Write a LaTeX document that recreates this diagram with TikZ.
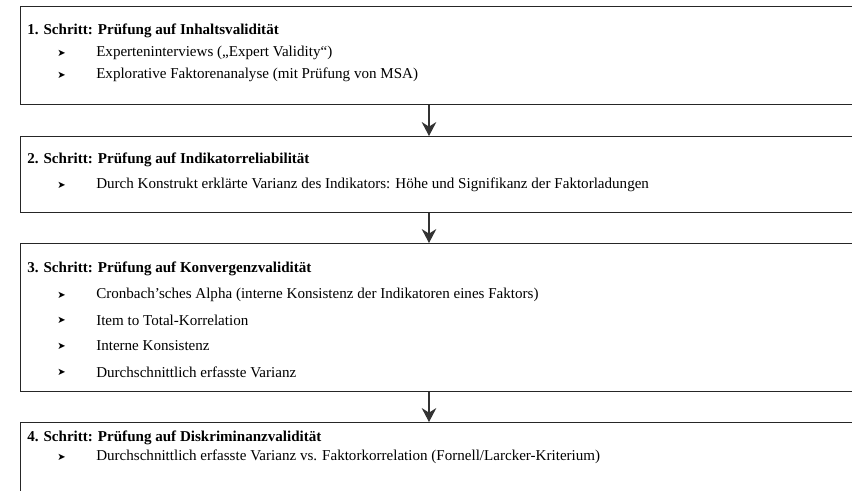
\documentclass[tikz,border=0pt]{standalone}
\usepackage{fontspec}
\setmainfont{Liberation Serif}
\newfontfamily\symfont{DejaVu Sans}
\usetikzlibrary{arrows.meta}

\begin{document}
\begin{tikzpicture}[x=0.75pt,y=-0.75pt,
  stepbox/.style={draw=black!85, line width=1.1pt, anchor=north west,
    minimum width=640pt, inner sep=0pt},
  head/.style={anchor=west, inner sep=0pt,
    font=\bfseries\fontsize{11.3}{13}\selectfont},
  item/.style={anchor=west, inner sep=0pt,
    font=\fontsize{11.3}{13}\selectfont},
  bullet/.style={anchor=west, inner sep=0pt,
    font=\symfont\fontsize{7.5}{8}\selectfont},
  flow/.style={draw=black!80, line width=0.8pt,
    -{Stealth[length=10.5pt,width=11pt,inset=3.5pt]}}
]
\useasboundingbox (0,0) rectangle (852,491);
\clip (0,0) rectangle (852,491);

% step boxes
\node[stepbox, minimum height=73.5pt]  (b1) at (20,6)   {};
\node[stepbox, minimum height=57pt]    (b2) at (20,136) {};
\node[stepbox, minimum height=111pt]   (b3) at (20,243) {};
\node[stepbox, minimum height=57pt]    (b4) at (20,422) {};

% step 1
\node[head] (h1) at (27,31) {1. Schritt: Prüfung auf Inhaltsvalidität};
\node[bullet] (p11) at (57,53) {➤};
\node[item] (t11) at (96,53) {Experteninterviews („Expert Validity“)};
\node[bullet] (p12) at (57,75) {➤};
\node[item] (t12) at (96,75) {Explorative Faktorenanalyse (mit Prüfung von MSA)};

% step 2
\node[head] (h2) at (27,160) {2. Schritt: Prüfung auf Indikatorreliabilität};
\node[bullet] (p21) at (57,185) {➤};
\node[item] (t21) at (96,185) {Durch Konstrukt erklärte Varianz des Indikators: Höhe und Signifikanz der Faktorladungen};

% step 3
\node[head] (h3) at (27,269) {3. Schritt: Prüfung auf Konvergenzvalidität};
\node[bullet] (p31) at (57,295) {➤};
\node[item] (t31) at (96,295) {Cronbach’sches Alpha (interne Konsistenz der Indikatoren eines Faktors)};
\node[bullet] (p32) at (57,320) {➤};
\node[item] (t32) at (96,320) {Item to Total-Korrelation};
\node[bullet] (p33) at (57,346) {➤};
\node[item] (t33) at (96,346) {Interne Konsistenz};
\node[bullet] (p34) at (57,372) {➤};
\node[item] (t34) at (96,372) {Durchschnittlich erfasste Varianz};

% step 4
\node[head] (h4) at (27,438) {4. Schritt: Prüfung auf Diskriminanzvalidität};
\node[bullet] (p41) at (57,457) {➤};
\node[item] (t41) at (96,457) {Durchschnittlich erfasste Varianz vs. Faktorkorrelation (Fornell/Larcker-Kriterium)};

% connectors between the steps
\coordinate (ax) at (429,0);
\draw[flow] (b1.south -| ax) -- (b2.north -| ax);
\draw[flow] (b2.south -| ax) -- (b3.north -| ax);
\draw[flow] (b3.south -| ax) -- (b4.north -| ax);
\end{tikzpicture}
\end{document}
